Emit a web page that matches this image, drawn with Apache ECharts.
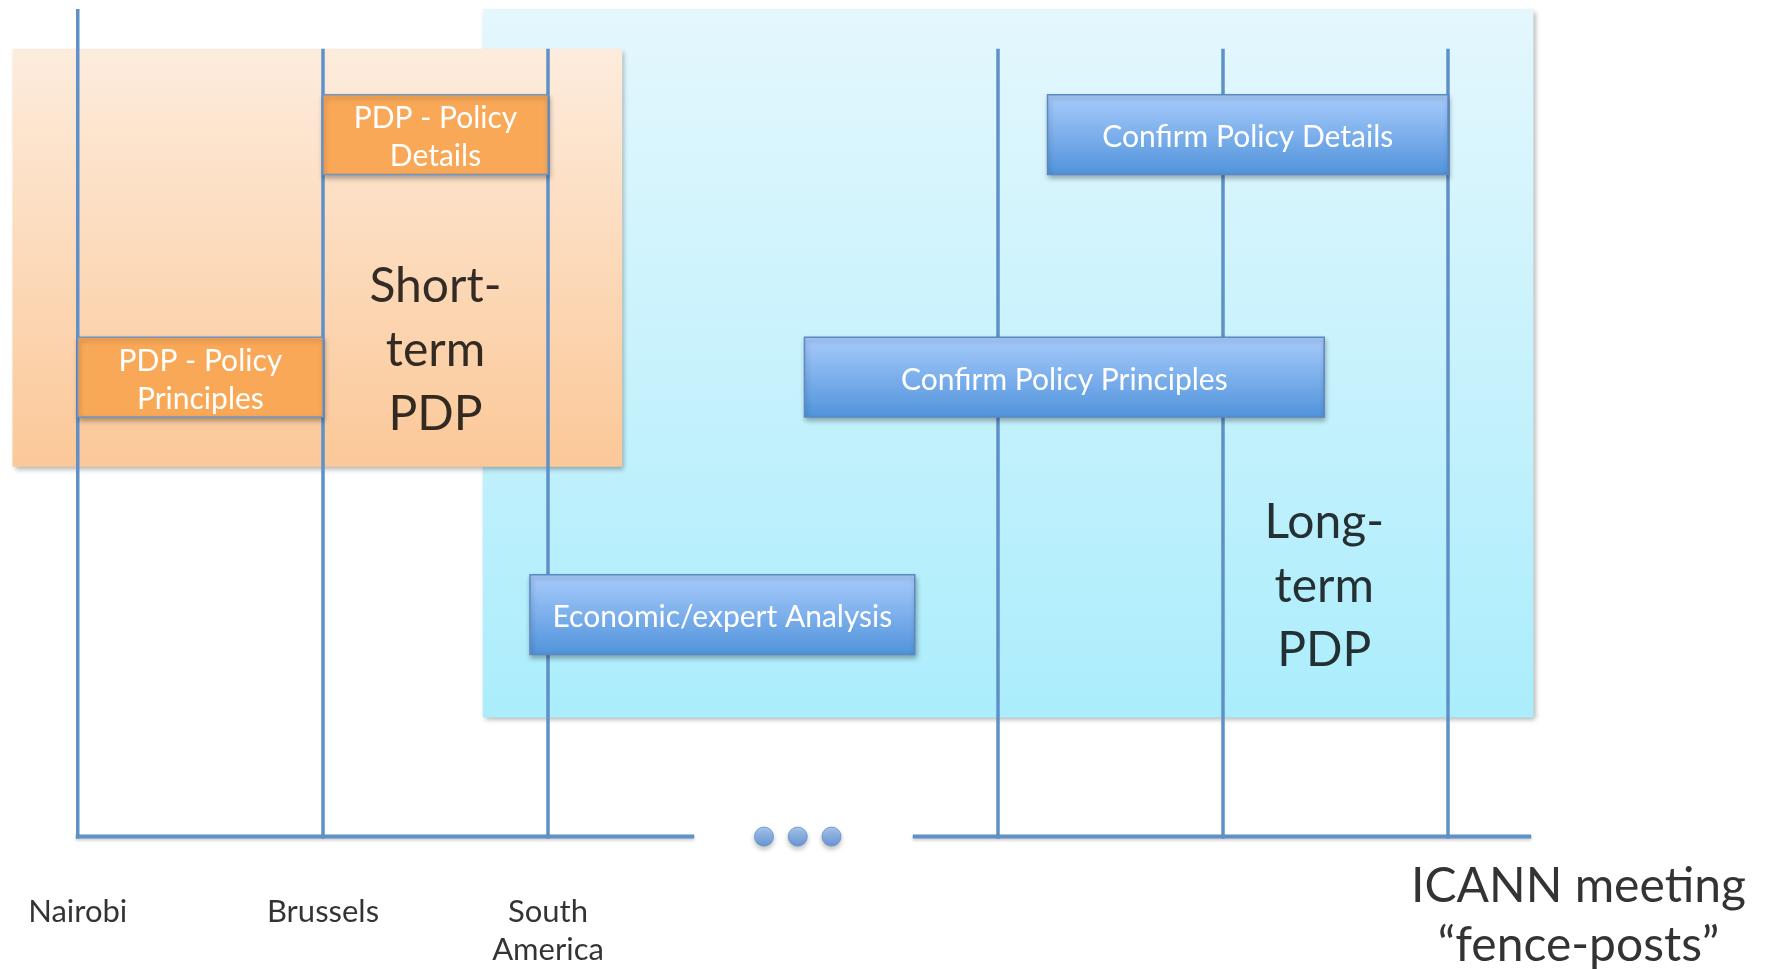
<!DOCTYPE html>
<html>
<head>
<meta charset="utf-8">
<title>ICANN meeting fence-posts</title>
<script src="https://cdn.jsdelivr.net/npm/echarts@6.0.0/dist/echarts.min.js"></script>
<style>
  html, body { margin: 0; padding: 0; background: #ffffff; }
  #chart { width: 1771px; height: 969px; }
</style>
</head>
<body>
<div id="chart"></div>
<script>
// meetings ("fence-posts"), x measured in meeting slots
const meetingNames = ['Nairobi', 'Brussels', 'South\nAmerica', '', '', '']
const meetingPos = [-0.09, 1, 2, 4, 5, 6]
const postTop = [100, 95.2, 95.2, 95.2, 95.2, 95.2]

// the two PDP phases (background panels)
const phaseNames = ['Short-\nterm\nPDP', 'Long-\nterm\nPDP']
const phaseStart = [-0.38, 1.71]
const phaseEnd = [2.33, 6.38]
const phaseBottom = [44.7, 14.4]
const phaseTop = [95.2, 100]
const phaseLabelX = [1.5, 5.45]
const phaseLabelY = [58.7, 30.2]

// tasks on three rows
const taskNames = ['PDP - Policy\nPrinciples', 'PDP - Policy\nDetails', 'Economic/expert Analysis', 'Confirm Policy Principles', 'Confirm Policy Details']
const taskPhase = [0, 0, 1, 1, 1]
const taskStart = [-0.09, 1, 1.92, 3.14, 4.22]
const taskEnd = [1, 2, 3.63, 5.45, 6]
const taskRow = [1, 2, 0, 1, 2]
const rowBottom = [22, 50.7, 80]
const rowHeight = 9.65

// timeline, broken in the middle
const lineStart = [-0.09, 3.63]
const lineEnd = [2.65, 6.37]
const breakDots = [2.96, 3.11, 3.26]

const axisTitle = 'ICANN meeting\n\u201cfence-posts\u201d'

const FONT = 'Lato, "Open Sans", sans-serif'
const POST_COLOR = '#5f90c8'

const myChart = echarts.init(document.getElementById('chart'))

// data rectangle -> pixel rectangle
function toRect(api, x0, x1, y0, y1) {
  const a = api.coord([x0, y1])
  const b = api.coord([x1, y0])
  return { x: a[0], y: a[1], width: b[0] - a[0], height: b[1] - a[1] }
}

function vGrad(top, bottom) {
  return new echarts.graphic.LinearGradient(0, 0, 0, 1, [
    { offset: 0, color: top },
    { offset: 1, color: bottom }
  ])
}

const phaseFill = [
  () => vGrad('#fdecdd', '#fbc898'),
  () => vGrad('#e4f7fd', '#abedfc')
]

// plain text labels placed with a transparent scatter
function textSeries(data, label) {
  return {
    type: 'scatter',
    z: 5,
    symbolSize: 1,
    itemStyle: { color: 'transparent' },
    data: data,
    label: Object.assign({
      show: true,
      position: 'inside',
      formatter: '{b}',
      color: '#000000',
      fontFamily: FONT,
      align: 'center',
      verticalAlign: 'middle'
    }, label)
  }
}

const option = {
  animation: false,
  grid: { left: 8, right: 8, top: 9, bottom: 0 },
  xAxis: { type: 'value', min: -0.4, max: 7.4, show: false },
  yAxis: { type: 'value', min: -16, max: 100, show: false },
  series: [
    // background panels
    {
      type: 'custom',
      z: 1,
      data: phaseNames.map((n, i) => [phaseStart[i], phaseEnd[i], phaseBottom[i], phaseTop[i], i]),
      renderItem(params, api) {
        const i = api.value(4)
        return {
          type: 'rect',
          z2: i === 0 ? 2 : 1,
          shape: toRect(api, api.value(0), api.value(1), api.value(2), api.value(3)),
          style: {
            fill: phaseFill[i](),
            shadowBlur: 5,
            shadowOffsetX: 2,
            shadowOffsetY: 3,
            shadowColor: 'rgba(0, 0, 0, 0.3)'
          }
        }
      }
    },
    // fence-posts
    {
      type: 'custom',
      z: 2,
      data: meetingPos.map((x, i) => [x, postTop[i]]),
      renderItem(params, api) {
        const a = api.coord([api.value(0), 0])
        const b = api.coord([api.value(0), api.value(1)])
        return {
          type: 'line',
          shape: { x1: a[0], y1: a[1] + 2, x2: b[0], y2: b[1] },
          style: { stroke: POST_COLOR, lineWidth: 3.5 }
        }
      }
    },
    // timeline
    {
      type: 'custom',
      z: 2,
      data: lineStart.map((x, i) => [x, lineEnd[i]]),
      renderItem(params, api) {
        const a = api.coord([api.value(0), 0])
        const b = api.coord([api.value(1), 0])
        return {
          type: 'line',
          shape: { x1: a[0] - 2, y1: a[1], x2: b[0], y2: b[1] },
          style: {
            stroke: POST_COLOR,
            lineWidth: 4,
            shadowBlur: 3,
            shadowOffsetY: 2,
            shadowColor: 'rgba(0, 0, 0, 0.2)'
          }
        }
      }
    },
    // the "..." break
    {
      type: 'scatter',
      z: 3,
      symbolSize: 19,
      data: breakDots.map((x) => [x, 0]),
      itemStyle: {
        color: vGrad('#9cc2f3', '#4f88d6'),
        borderColor: '#5d8fcf',
        borderWidth: 1,
        shadowBlur: 5,
        shadowOffsetY: 3,
        shadowColor: 'rgba(0, 0, 0, 0.3)'
      }
    },
    // tasks
    {
      type: 'custom',
      z: 4,
      data: taskNames.map((n, i) => [taskStart[i], taskEnd[i], rowBottom[taskRow[i]], taskPhase[i]]),
      renderItem(params, api) {
        const i = params.dataIndex
        const orange = api.value(3) === 0
        const y0 = api.value(2)
        return {
          type: 'rect',
          shape: toRect(api, api.value(0), api.value(1), y0, y0 + rowHeight),
          style: {
            fill: orange ? '#f9a857' : vGrad('#a9ccfc', '#5093db'),
            stroke: orange ? '#7194c3' : '#5b89c3',
            lineWidth: 1.5,
            shadowBlur: 5,
            shadowOffsetX: 1,
            shadowOffsetY: 3,
            shadowColor: 'rgba(0, 0, 0, 0.3)'
          },
          textContent: {
            style: {
              text: taskNames[i],
              fill: '#ffffff',
              fontFamily: FONT,
              fontSize: 30,
              lineHeight: 38,
              align: 'center'
            }
          },
          textConfig: { position: 'inside', offset: [0, 3] }
        }
      }
    },
    // phase labels
    textSeries(
      phaseNames.map((n, i) => ({ name: n, value: [phaseLabelX[i], phaseLabelY[i]] })),
      { fontSize: 48, lineHeight: 64 }
    ),
    // meeting names under the timeline
    textSeries(
      meetingNames.map((n, i) => ({ name: n, value: [meetingPos[i], -6.8] })),
      { fontSize: 31, lineHeight: 38, verticalAlign: 'top' }
    ),
    // axis title
    textSeries(
      [{ name: axisTitle, value: [6.58, -9.6] }],
      { fontSize: 48, lineHeight: 59 }
    )
  ]
}

myChart.setOption(option)
</script>
</body>
</html>
